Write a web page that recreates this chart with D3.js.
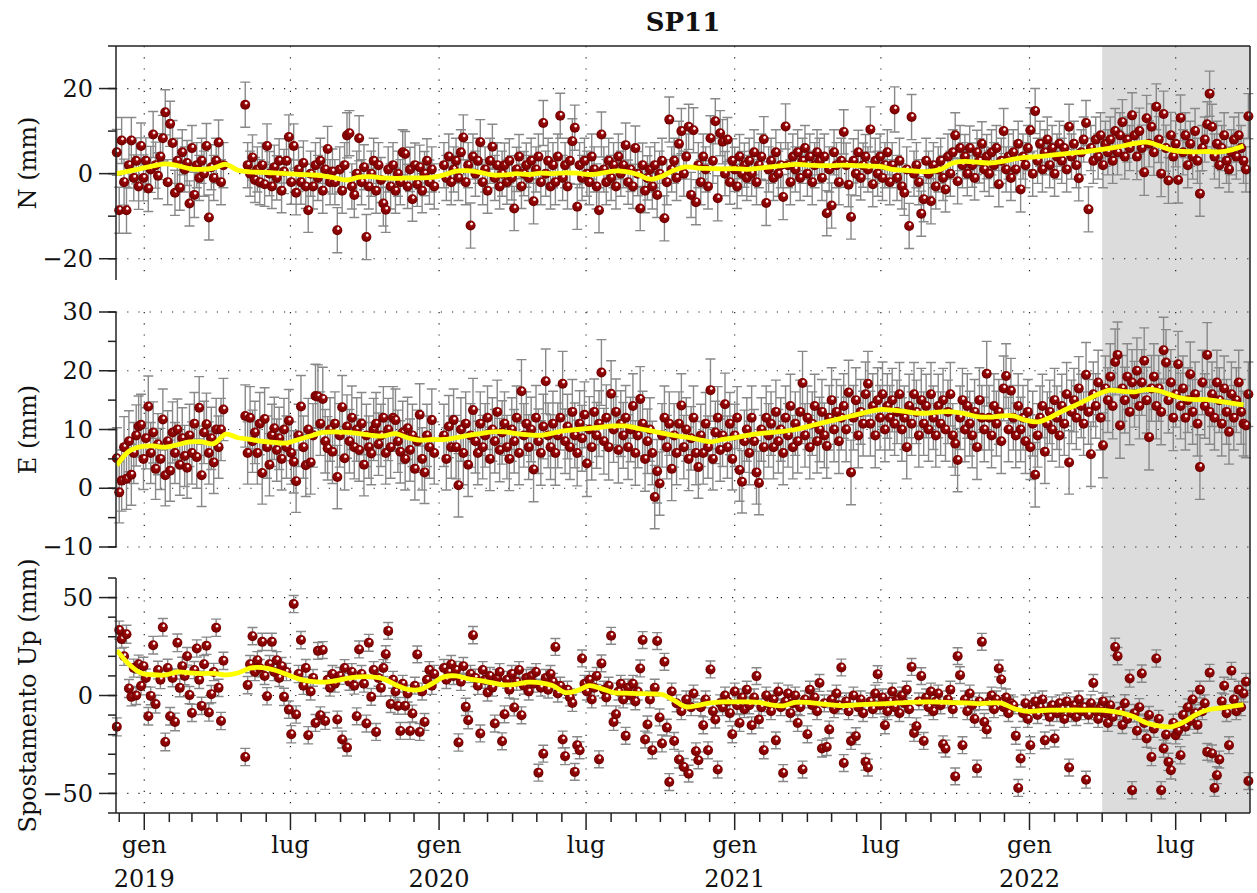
<!DOCTYPE html>
<html>
<head>
<meta charset="UTF-8"/>
<script src="https://d3js.org/d3.v7.min.js"></script>
<title>SP11</title>
<style>
body{margin:0;background:#fff;}
svg{display:block;background:#fff;}
.grid line{stroke:#222;stroke-width:1.2;stroke-dasharray:1.2,10;}
.err{stroke:#888888;stroke-width:1.4;fill:none;}
.trend{stroke:#ffff00;stroke-width:4.8;fill:none;stroke-linejoin:round;}
.axis line,.axis path{stroke:#222;stroke-width:1.5;fill:none;}
</style>
</head>
<body>
<svg id="chart" width="1257" height="893" font-family="DejaVu Serif, Liberation Serif, serif"></svg>
<script>
'use strict';

// one sample every 3 days from 28 Nov 2018; null = no solution that day
var sampleStart = Date.UTC(2018, 10, 28);
var sampleStep = 3;
// smoothed curve, one value every 15 days from the same start
var smoothStep = 15;

var valsN = [
5,-8.6,7.8,-2,-8.6,2,7.8,-1,3,-3,
6.5,-1,3,-3.5,1,9.2,2,-0.5,4,8.3,
14.4,-2,11.7,7.2,-4.5,3,-3.3,5,1,2.5,
-7,6,-5,2,-1,3,0,6.5,-10.3,1.5,
-1,3,7.3,-2,2,null,null,null,null,null,
null,null,null,16.2,2,0,3.8,-1.5,1,-2,
2,-2.5,6.5,0,-3,1.5,-1,3,-4,0.5,
3,8.6,-2,6.5,-4.5,1,-2,2.5,-3,-8.6,
0,-3,2,-1,3,-4,1,5.8,-2,0.5,
-2,-13.3,1,-4,2,9,9.5,-3,-5,0,
8.3,-2,1.5,-14.9,-3,0,3,-4,2,-1.5,
-7,-8.5,1,-3,2,-4,0,-2,5,4.6,
-3,1,-6,2,-2.5,1.5,-4,0,3,-2,
1,-3,null,null,null,2,-1,4,-2,1,
3,-1,5,8.5,-2,2,-12.2,4,0,3,
7.4,-2,1,-4,3,6.3,-1,2,-3,0,
2,-2,3,-1,-8.2,1,4,-3,0,2,
-1,3,-6.5,1,4,-2,11.9,0,3,-3,
2,-2,4,13.6,-1,2,-3,3,7.6,10.8,
-7.8,2,-1,3,0,-2,4,1,-3,-8.6,
9.2,1,-2,3,-1,2,-3,4,0,2,
6.7,-2,1,-3,6,0,-8.2,2,-4,-1,
1,-3,2,-5,0,3,-10.5,-2,12.7,1,
3,-1,7,10,0,4,11,-5,10.2,-6.7,
2,-2,4,1,-3,8.3,3,12.3,-5.8,9.5,
7.5,0,8,-2,3,1,-3,4,0,2,
-1,3,0,5,-2,2,4,8.1,-6.9,1,
3,-1,5,0,2,-5.5,11.1,2,-2,4,
1,5,-1,3,6,0,4,-2,2,5,
3,-1,4,-9.3,1,-7.5,5,2,-2,3,
9.8,2,-2.6,-10.2,3,0,5,-1,2,4,
1,10.4,-2.5,3,0,4,-1,2,5,-2,
2,15.1,-1,3,-3,-4.5,1,-12.3,13.3,0,
2,-2,-9.4,-6,3,0,-6.5,2,-3,1,
3,-1,-3.7,4,0,5,9,-1.8,6,2,
4,0,6,2,-1,5,3,7,1,4,
0,5,2,6,-2.5,3,10,1,4,-1,
5,1,7,-3.7,4,2,6,10.2,0,14.7,
3,7,1,5,8,2,6,0,4,7,
3,6,1,11,4,7,2,-1.1,5,8,
11.9,-8.4,6,3,8,4,9,2,7,5,
8,3,10,5,9,12.1,4,8,6,13.7,
9,4,10,6,0.3,13,7,11,5,15.7,
8,0,14,6,-1.6,9,4,7,-1.5,13.1,
5,9,2,7,4,10,3,-4.7,6,8,
11.6,18.8,11,4,7,2,6,9,3,1,
5,8,4,9,6,3,1,13.5
];

var valsE = [
5.1,-0.7,1.3,7,1.6,8,2.3,6,9,10.5,
10.8,5,8.5,13.9,6,9.5,3.3,7.5,5,11.7,
2.2,8,3,9.5,6,10,4,8.5,5.5,3.5,
9,6,11,5.3,13.7,2.2,9.5,10.9,6,8.5,
4.4,10,7,10,13.4,null,null,null,null,null,
null,null,null,12.3,6,12,8,9.5,6,11,
2.6,11.8,7,4,9,10.2,6.5,8.5,5,10,
7,11.5,6,4.5,1.2,9,13.9,7,3.9,10,
4.4,9,15.7,15.6,11,15.2,8,6.8,10,6.2,
11,1.9,9,13.8,5.1,10.5,8,12,7,10,
6.5,11,4,9,7,5.9,10,11,7.5,9,
12,6,10,7,12,11.6,8,6.2,9.5,5,
10.2,6.5,9,3.3,8,12.5,5,2.7,9,7,
11.6,6,null,null,null,9,5,10.5,7,11.6,
7,0.5,10,6,11,4,9,13.3,8,6,
11,7,9,12,5,10,8,13,6.5,9.5,
11,7,5,10,8,12,6,16.5,9,11,
7,10,3.2,12,8,6,10.5,18.2,9,7,
11,6,9,12,17.8,8,10.5,7,13,9,
6,11,8.5,12.5,4.2,10,7,13,9,11,
19.7,8,12,7,16.1,10,13,6.5,11,9,
12,7,10,14,6,9,15.2,11,5,8,
10,6,-1.5,2.9,0.8,9,12,7,11,3.3,
9,6,11,14.1,7,10,5,8.5,12,6,
3.6,9,6,11,7,16.7,5,9.5,12,6.5,
9,14.3,7,11,5,9,12,3.1,1.1,8,
10,6,12,8,2.7,0.9,10,7,12,9,
11,7,13,8,10,6,12,9,14,7,
11,8,13,17.9,9,12,7,11,14,8,
10,13,9,7.2,12,15,10,13,8,12,
14,10,16.3,2.7,12,15,9,13,11,16,
17.8,11,14,9,15,12,16,10,14,12,
15,11,13,16,10,12,7,14,11,16,
13,9,15,11,14,10,16,12,9,14,
11,15,10,13,16,9,7.6,4.8,12,15,
10,14,11,9,13,7,15,12,10,19.5,
12,9,14,11,13,8,17,19.1,10,16.6,
12,9,14,10,12,8,13,7,11,2.3,
9,12,14,6.2,11,13,10,15,12,9,
14,11,16,4.4,13,15,12,17,14,11,
19.3,13,5.8,16,14,18,12,7.3,17,15,
19,14,21.5,22.7,10.7,17,15,19,13,18,
16,20,14,18,21.7,15,8.7,17,19,14,
17,13,23.5,21.4,15,18,12,16,21.1,14,
17,12,15,19.4,13,16,11,3.6,18,14,
22.7,13,16,12,18,15,11,17,13,9.6,
16,12,15,18,13,11,10.7,16
];

var valsU = [
-16,33.4,28.8,20,31.3,3.6,-0.7,14,0,16,
4.8,15,9,-10.6,-0.2,25.7,-4.4,13,8,34.8,
-23.7,14,-10.6,9,-13.5,26.9,3.9,15,10,20,
0.2,-8.9,13,24,8,-5.3,16,25.4,-8.7,0.7,
12,34.6,3.9,-13,17.7,null,null,null,null,null,
null,null,null,-31.4,5.3,16,30.3,12,18,14,
27.4,10,-0.4,16,27.4,12,18,9,15,-0.7,
12,-7.2,-19.8,46.7,-9.7,11,28.3,5,14,-20.3,
2,9,-14,22.8,-10.1,23.2,-13,8,4,11,
6,-12.3,10,-22.5,14,-26.6,7,12,5,-10.6,
23.5,11,6,-14.3,26.9,-0.7,13,-18.6,9,3.9,
14,21.1,33,-4.4,8,2,-5.3,-18.1,6,-5.3,
1,-18.1,-9.2,5,21,-18.6,2,-13.5,8,13,
5,11,null,null,null,14,8,12,16,10,
13,-24,7,15,-5.8,-12.6,11,30.8,9,5,
-19.4,13,8,1.5,10,4,-14.3,9,12,-23.4,
-9.6,8,3,11,-6.1,7,13,-10.1,5,9,
2,10,6,12,-39.4,4,-29.7,9,3,11,
7,24.8,1,5,-22.5,-31,3,-1,-3.8,-39,
-25.4,-28,18.9,6,2,8,-2,4,10,-32.6,
16.4,3,-1,5,30.5,-13.5,-9.6,2,6,-2,
-20.6,4,0,6,-3,2,13.8,28.3,-22.5,-14.8,
-2,-28,4,27.8,-11.2,-24.5,17.2,-16.4,-44.2,2,
-23.2,-4,-32.7,-8,-36.5,-2,-39.9,-6,1,-28.5,
-33.1,-6,-15.2,-2,-28,13.3,-8,-12.3,-37.8,-4,
-6,0,-3,-9,-19.8,2,-5,-14,-1,-7,
3,-5,-15.2,-1,9.9,-12.3,-6,-28,0,-4,
-8,-2,-22.9,2,-6,-39.6,-3,1,-9,-4,
0,-14,-6,-37.8,-2,-19.8,3,-5,-1,-8,
6.4,-27.1,-4,-26.3,-17.4,-2,-7,1,-5,14.3,
-34.5,-3,-8,-23.2,0,-20.8,-6,-2,-9,-33.9,
-36.8,-3,-7,1,10.9,-5,-1,-15.2,-8,-3,
2,-6,-2,-9,0,-4,3,-7,14.6,-19.1,
-15.7,-3,9.9,-23.2,-1,-6,2,-8,-3,1,
-5,-24.9,-27.1,-2,3,-7,-41.3,20.1,10.4,-25.4,
-2,-8,1,-5,-12,-37.3,-3,27.4,-13.5,-17.4,
-3,0,-7,-2,13.8,8.2,-6,-1,-9,-4,
-5,-20.6,-47.2,-32.2,-9,-4,-12,-25.4,-7,-3,
-10,-6,-2,-22.9,-8,-11,-5,-22,-9,-4,
-7,-12,-3,-36.8,-9,-5,-11,-2,-8,-6,
-43,-10,-4,6.4,-8,-12,-6,-3,-9,-14,
-5,-11,24.8,20.1,-8,-15,-4,-12,8.7,-48.4,
-9,-18,-6,11.2,-14,-22,-10,-31.4,-17,18.9,
-12,-48.4,-27.1,-20,-33.9,-38.2,-14,-20.3,-18,-30.5,
-10,-16,-6,-13,-2,-9,-15,3,-8,-4,
-28.8,11.6,-29.6,-47.2,-40.7,-32.7,-3,5,-9,-25.4,
12.6,-2,-8,3,-6,1,7,-43.7
];

// 1-sigma, one value per 30 samples
var sigN = [5.4,5.4,5.3,5.3,5.3,5.3,5.2,5.2,5.3,5.3,5.3,5.3,5.2,5.3,5.3,5.3,5.2,5.3,5.3,5.3,
            5.3,5.2,5.3,5.3,5.3,5.2,5.3,5.3,5.3,5.3,5.2,5.3,5.3,5.3,5.3,5.2,5.3,5.3,5.3,5.3,
            5.3,5.3,5.4,5.4,5.3,5.3,5.3];
var sigE = [5.2,5.2,5.2,5.3,5.3,5.3,5.3,5.3,5.4,5.4,5.3,5.3,5.3,5.3,5.4,5.4,5.4,5.5,5.5,5.6,
            5.6,5.5,5.4,5.4,5.3,5.3,5.4,5.4,5.4,5.5,5.5,5.5,5.4,5.4,5.4,5.5,5.5,5.5,5.4,5.4,
            5.5,5.6,5.6,5.6,5.5,5.5,5.5];
var sigU = [4.6,4.5,4.5,4.4,4.4,4.4,4.4,4.4,4.3,4.3,4.3,4.3,4.3,4.4,4.4,4.3,4.3,4.3,4.3,4.3,
            4.3,4.3,4.3,4.3,4.3,4.3,4.3,4.3,4.3,4.3,4.3,4.3,4.3,4.3,4.3,4.3,4.3,4.3,4.3,4.3,
            4.3,4.4,4.4,4.4,4.3,4.3,4.3];

var smN = [
0.0,0.6,1.2,1.8,2.3,1.9,1.2,1.0,1.3,2.2,
0.8,0.4,0.3,0.2,0.0,-0.2,-0.3,-0.5,-1.0,-1.5,
-0.8,-0.7,-1.0,-1.1,-1.0,-1.0,-0.9,-0.3,0.6,0.7,
0.3,-0.3,-0.3,0.0,-0.2,0.1,0.0,0.2,0.1,-0.2,
0.1,0.6,0.5,-0.2,-1.3,-0.6,0.8,1.6,1.3,1.2,
1.1,1.2,1.0,1.3,1.6,1.9,2.2,2.0,1.9,1.9,
2.0,1.9,1.8,1.7,1.0,0.8,0.6,0.5,1.0,2.5,
2.9,2.7,2.5,2.8,3.4,3.8,4.0,4.3,4.6,4.9,
5.2,5.6,6.0,6.5,7.1,7.4,6.6,5.6,5.2,5.1,
5.2,5.1,5.6,6.5
];
var smE = [
3.9,6.3,7.1,7.2,7.0,7.4,7.9,7.9,7.6,9.2,
8.6,8.3,8.0,7.8,7.7,8.3,8.9,9.5,9.6,9.5,
9.3,9.0,8.9,9.3,8.6,8.2,8.3,8.3,8.6,9.0,
9.3,9.6,9.6,9.3,9.1,9.0,9.4,9.8,10.0,10.2,
10.4,10.6,10.6,10.2,9.8,9.4,9.0,8.7,8.3,7.9,
8.3,8.6,9.0,9.3,9.5,9.7,10.0,10.5,11.0,11.5,
12.0,12.5,13.0,13.4,13.3,13.1,12.8,12.8,13.0,13.0,
12.7,12.2,12.1,12.3,12.3,11.6,11.3,12.0,13.1,14.0,
15.0,16.0,16.7,16.5,16.4,16.8,16.6,15.9,15.3,15.1,
15.1,14.8,14.5,14.2
];
var smU = [
23,16,11.5,10.6,10.5,12,11.5,11.2,11.3,10.5,
11.5,14,14.2,13,10.8,8.5,7.2,6.8,7.5,8.8,
9.5,9.5,8.5,5.5,3.2,3.0,6.0,9.5,10.0,8.5,
7.6,6.5,5.4,5.8,6.8,6.5,5.0,1.5,2.5,5.0,
3.5,1.5,1.2,1.0,0.8,0.5,-2.5,-5.8,-5.0,-3.8,
-3.3,-3.3,-3.3,-3.5,-4.8,-5.3,-3.5,-3.5,-4.2,-4.8,
-5.2,-4.8,-4.5,-4.3,-4.0,-3.6,-3.4,-3.3,-3.4,-3.6,
-3.8,-4.1,-3.9,-3.9,-6.5,-8.0,-7.8,-7.5,-7.5,-7.4,
-7.5,-7.5,-8.0,-9.0,-11.0,-14.0,-15.5,-16.0,-13.8,-10,
-7.4,-6.5,-5.6,-4.7
];

var ticksN = [-20, 0, 20];
var ticksE = [-10, 0, 10, 20, 30];
var ticksU = [-50, 0, 50];
var monthLabels = {0: 'gen', 6: 'lug'};
var shadeFrom = new Date(Date.UTC(2022, 3, 1));

var DAY = 864e5;
var plotLeft = 116, plotRight = 1250, plotTop = 46, plotBottom = 813;
var serif = 'DejaVu Serif, Liberation Serif, serif';

var svg = d3.select('#chart');
var defs = svg.append('defs');

var grad = defs.append('radialGradient').attr('id', 'ball')
    .attr('cx', '50%').attr('cy', '50%').attr('r', '55%').attr('fx', '62%').attr('fy', '28%');
grad.append('stop').attr('offset', '0').attr('stop-color', '#ffffff');
grad.append('stop').attr('offset', '0.17').attr('stop-color', '#fbeaea');
grad.append('stop').attr('offset', '0.32').attr('stop-color', '#9a0a0a');
grad.append('stop').attr('offset', '0.75').attr('stop-color', '#800000');
grad.append('stop').attr('offset', '1').attr('stop-color', '#5e0000');

var sx = d3.scaleUtc()
    .domain([new Date(Date.UTC(2018, 10, 27)), new Date(Date.UTC(2022, 9, 1))])
    .range([plotLeft, plotRight]);

var months = d3.utcMonth.range(sx.domain()[0], sx.domain()[1]);
var majors = months.filter(function(d){ return d.getUTCMonth() % 6 === 0; });

// shaded period
svg.append('rect')
    .attr('x', sx(shadeFrom)).attr('y', plotTop)
    .attr('width', plotRight - sx(shadeFrom)).attr('height', plotBottom - plotTop)
    .attr('fill', '#dcdcdc');

var panels = [
  {vals: valsN, sig: sigN, sm: smN, dom: [-25, 30], y0: 280, y1: 46, ticks: ticksN, minor: 10, label: 'N (mm)'},
  {vals: valsE, sig: sigE, sm: smE, dom: [-10, 30], y0: 547, y1: 312, ticks: ticksE, minor: 5, label: 'E (mm)'},
  {vals: valsU, sig: sigU, sm: smU, dom: [-60, 60], y0: 813, y1: 578, ticks: ticksU, minor: 10, label: 'Spostamento Up (mm)'}
];

panels.forEach(function(p, pi){
  var sy = d3.scaleLinear().domain(p.dom).range([p.y0, p.y1]);
  var g = svg.append('g');

  var clipId = 'clip' + pi;
  defs.append('clipPath').attr('id', clipId)
     .append('rect').attr('x', plotLeft).attr('y', p.y1)
     .attr('width', plotRight - plotLeft).attr('height', p.y0 - p.y1);

  // dotted grid
  var grid = g.append('g').attr('class', 'grid');
  grid.selectAll('.gx').data(majors).enter().append('line')
      .attr('x1', function(d){ return sx(d); }).attr('x2', function(d){ return sx(d); })
      .attr('y1', p.y1).attr('y2', p.y0);
  grid.selectAll('.gy').data(p.ticks).enter().append('line')
      .attr('x1', plotLeft).attr('x2', plotRight)
      .attr('y1', function(d){ return sy(d); }).attr('y2', function(d){ return sy(d); });

  var pts = [];
  p.vals.forEach(function(v, i){
    if (v === null) return;
    pts.push({t: new Date(sampleStart + i * sampleStep * DAY), v: v, s: p.sig[Math.floor(i / 10)]});
  });

  // error bars
  var cap = 5;
  var dpath = '';
  pts.forEach(function(d){
    var x = sx(d.t), ya = sy(d.v - d.s), yb = sy(d.v + d.s);
    dpath += 'M' + x + ',' + ya + 'V' + yb +
             'M' + (x - cap) + ',' + ya + 'H' + (x + cap) +
             'M' + (x - cap) + ',' + yb + 'H' + (x + cap);
  });
  g.append('path').attr('class', 'err').attr('d', dpath);

  g.selectAll('circle').data(pts).enter().append('circle')
      .attr('cx', function(d){ return sx(d.t); })
      .attr('cy', function(d){ return sy(d.v); })
      .attr('r', 5)
      .attr('fill', 'url(#ball)');

  var line = d3.line()
      .x(function(d, i){ return sx(new Date(sampleStart + i * smoothStep * DAY)); })
      .y(function(d){ return sy(d); })
      .curve(d3.curveCatmullRom);
  g.append('path').attr('class', 'trend').attr('clip-path', 'url(#' + clipId + ')')
      .attr('d', line(p.sm));

  // y axis
  var ax = g.append('g').attr('class', 'axis');
  ax.append('line').attr('x1', plotLeft).attr('x2', plotLeft).attr('y1', p.y1).attr('y2', p.y0);
  var minorTicks = d3.range(Math.ceil(p.dom[0] / p.minor) * p.minor, p.dom[1] + 0.001, p.minor);
  ax.selectAll('.mt').data(minorTicks).enter().append('line')
      .attr('x1', plotLeft - 8).attr('x2', plotLeft)
      .attr('y1', function(d){ return sy(d); }).attr('y2', function(d){ return sy(d); });
  ax.selectAll('.Mt').data(p.ticks).enter().append('line')
      .attr('x1', plotLeft - 17).attr('x2', plotLeft)
      .attr('y1', function(d){ return sy(d); }).attr('y2', function(d){ return sy(d); });
  g.selectAll('.tl').data(p.ticks).enter().append('text')
      .attr('x', 93).attr('y', function(d){ return sy(d); })
      .attr('dy', '0.34em').attr('text-anchor', 'end')
      .attr('font-family', serif).attr('font-size', 24).attr('fill', '#111')
      .text(function(d){ return d3.format('d')(d); });

  var cy = (p.y0 + p.y1) / 2;
  g.append('text').attr('transform', 'translate(36,' + cy + ') rotate(-90)')
      .attr('text-anchor', 'middle')
      .attr('font-family', serif).attr('font-size', 24).attr('fill', '#111')
      .text(p.label);
});

// frame: top and right border, bottom date axis
var fr = svg.append('g').attr('class', 'axis');
fr.append('line').attr('x1', plotLeft).attr('x2', plotRight).attr('y1', plotTop).attr('y2', plotTop);
fr.append('line').attr('x1', plotRight).attr('x2', plotRight).attr('y1', plotTop).attr('y2', plotBottom);
fr.append('line').attr('x1', plotLeft).attr('x2', plotRight).attr('y1', plotBottom).attr('y2', plotBottom);
fr.selectAll('.xt').data(months).enter().append('line')
    .attr('x1', function(d){ return sx(d); }).attr('x2', function(d){ return sx(d); })
    .attr('y1', plotBottom)
    .attr('y2', function(d){ return d.getUTCMonth() % 6 === 0 ? plotBottom + 17 : plotBottom + 9; });

svg.selectAll('.xl').data(majors).enter().append('text')
    .attr('x', function(d){ return sx(d); }).attr('y', 853)
    .attr('text-anchor', 'middle')
    .attr('font-family', serif).attr('font-size', 24).attr('fill', '#111')
    .text(function(d){ return monthLabels[d.getUTCMonth()]; });
svg.selectAll('.yl').data(majors.filter(function(d){ return d.getUTCMonth() === 0; })).enter().append('text')
    .attr('x', function(d){ return sx(d); }).attr('y', 887)
    .attr('text-anchor', 'middle')
    .attr('font-family', serif).attr('font-size', 24).attr('fill', '#111')
    .text(function(d){ return d.getUTCFullYear(); });

svg.append('text').attr('x', 683).attr('y', 31).attr('text-anchor', 'middle')
    .attr('font-family', serif).attr('font-size', 26).attr('font-weight', 'bold').attr('fill', '#111')
    .text('SP11');
</script>
</body>
</html>
